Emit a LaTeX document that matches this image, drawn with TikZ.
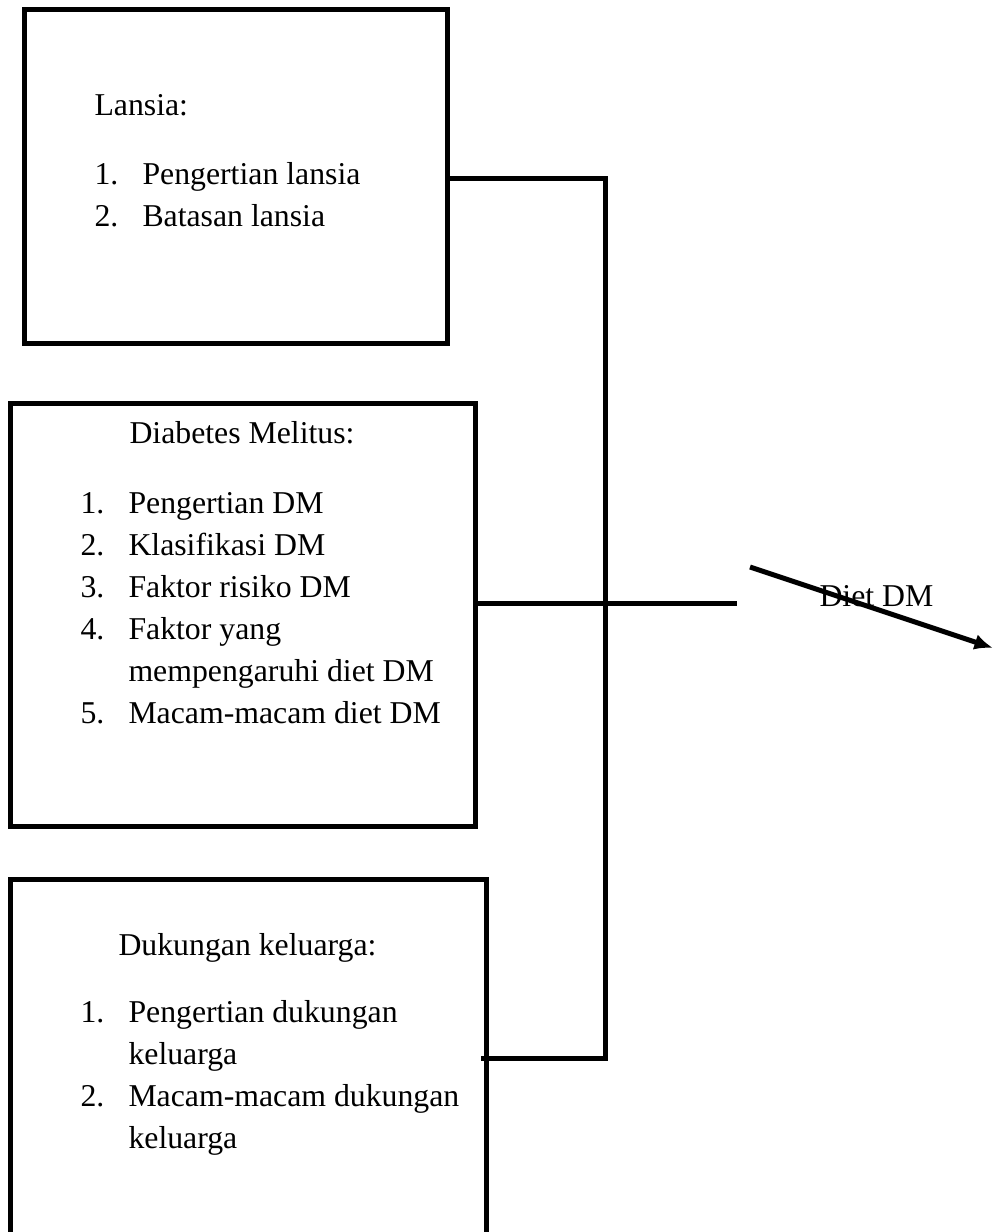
\documentclass[tikz,border=0pt]{standalone}
\usepackage{fontspec}
\setmainfont{Liberation Serif}
\usetikzlibrary{arrows.meta}
\newdimen\px \px=0.3777pt
\tikzset{
  box/.style={draw, line width=5\px, inner sep=0pt},
  link/.style={line width=5\px},
  title/.style={anchor=base west, inner sep=0pt},
  items/.style={anchor=base west, inner sep=0pt}
}
\newcommand{\itm}[1]{\makebox[48\px][l]{#1}}
\begin{document}
\begin{tikzpicture}[x=\px, y=-\px, font=\fontsize{12}{15.9}\selectfont]
  \useasboundingbox[fill=white] (0, 0) rectangle (993, 1232);
  % boxes
  \node[box, minimum width=423\px, minimum height=334\px] (lansia) at (235.5, 176) {};
  \node[box, minimum width=464.5\px, minimum height=423\px] (dm) at (242.75, 615) {};
  \node[box, minimum width=475.5\px, minimum height=420.5\px] (keluarga) at (248.25, 1089.75) {};
  % texts
  \node[title] (lansiaT) at (94, 115) {Lansia:};
  \node[items] (lansiaL) at (94, 184) {\begin{tabular}[t]{@{}l@{}}
    \itm{1.}Pengertian lansia\\
    \itm{2.}Batasan lansia
  \end{tabular}};
  \node[title] (dmT) at (129, 443) {Diabetes Melitus:};
  \node[items] (dmL) at (80, 513) {\begin{tabular}[t]{@{}l@{}}
    \itm{1.}Pengertian DM\\
    \itm{2.}Klasifikasi DM\\
    \itm{3.}Faktor risiko DM\\
    \itm{4.}Faktor yang\\
    \itm{}mempengaruhi diet DM\\
    \itm{5.}Macam-macam diet DM
  \end{tabular}};
  \node[title] (keluargaT) at (118, 955) {Dukungan keluarga:};
  \node[items] (keluargaL) at (80, 1022) {\begin{tabular}[t]{@{}l@{}}
    \itm{1.}Pengertian dukungan\\
    \itm{}keluarga\\
    \itm{2.}Macam-macam dukungan\\
    \itm{}keluarga
  \end{tabular}};
  % connectors
  \coordinate (top) at (605, 178);
  \coordinate (bend) at (605, 1058);
  \coordinate (j3) at (481, 1058);
  \coordinate (hub) at (737, 603);
  \draw[link] (lansia.east |- top) -- (top) -- (bend) -- (j3);
  \draw[link] (dm.east |- hub) -- (hub);
  \node[title] (diet) at (819, 606) {Diet DM};
  \coordinate (a0) at (750, 567);
  \coordinate (a1) at (993, 648);
  \draw[link, -{Latex[length=7pt, width=6pt]}] (a0) -- (a1);
\end{tikzpicture}
\end{document}
